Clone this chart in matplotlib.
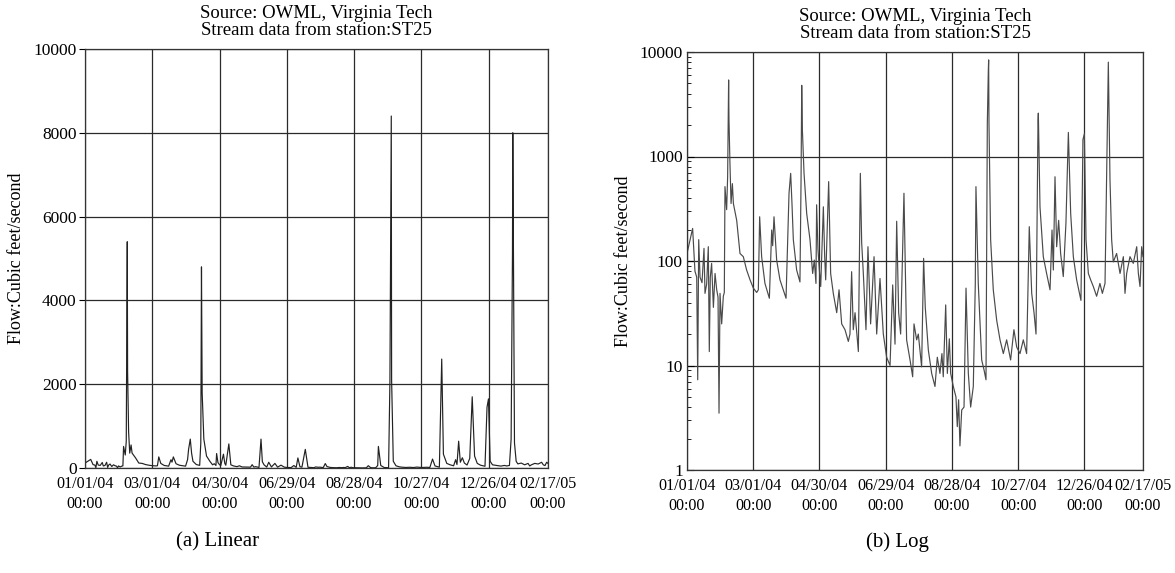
import matplotlib
matplotlib.use("Agg")
import matplotlib.pyplot as plt
import matplotlib.dates as mdates
from matplotlib.ticker import LogLocator, FixedLocator, NullFormatter
import datetime as dt

plt.rcParams['font.family'] = ['Liberation Serif', 'DejaVu Serif']

# ---- data: days since 01/01/04 00:00 and flow (cubic feet / second) ----
day = [0.0, 5.1, 7.2, 8.8, 9.7, 10.6, 11.8, 13.6, 15.4, 16.3, 17.8, 19.3, 20.2, 21.1,
       22.3, 23.9, 25.4, 26.9, 28.1, 29.0, 29.9, 31.4, 32.9, 33.8, 34.4, 35.9, 36.8,
       37.7, 38.0, 38.9, 39.9, 41.1, 42.0, 45.0, 48.0, 51.0, 54.0, 57.1, 60.1, 63.1,
       64.6, 65.8, 67.6, 70.6, 74.6, 76.7, 77.6, 78.8, 81.2, 84.2, 87.2, 89.7, 91.5,
       92.4, 93.9, 95.1, 96.3, 99.3, 102.3, 103.3, 103.9, 104.2, 104.5, 106.0, 108.4,
       111.4, 113.8, 115.3, 116.8, 117.4, 118.6, 119.9, 121.1, 123.5, 124.7, 125.6,
       128.3, 130.1, 132.5, 135.6, 137.7, 140.1, 143.1, 146.1, 147.6, 149.1, 150.6,
       152.2, 155.2, 157.0, 158.2, 159.7, 162.1, 163.9, 166.3, 169.4, 171.8, 174.8,
       177.8, 180.8, 183.9, 186.3, 188.4, 189.9, 191.7, 193.5, 196.5, 198.9, 202.0,
       204.4, 205.6, 208.0, 209.5, 212.5, 214.3, 215.8, 218.6, 221.6, 224.6, 226.7,
       229.1, 230.9, 232.1, 234.3, 235.8, 237.6, 238.8, 241.2, 243.6, 244.8, 246.0,
       247.2, 248.8, 250.9, 252.7, 254.8, 256.9, 259.3, 261.1, 261.7, 263.8, 266.9,
       269.0, 270.8, 272.0, 272.9, 273.2, 273.5, 275.0, 277.4, 280.5, 283.5, 286.5,
       289.5, 293.1, 296.1, 298.6, 301.6, 304.6, 307.6, 310.0, 312.2, 314.3, 316.1,
       317.9, 318.2, 319.7, 322.7, 325.7, 328.8, 330.6, 331.8, 333.3, 334.8, 336.6,
       338.4, 340.8, 343.2, 345.4, 347.5, 349.9, 352.9, 356.8, 358.6, 359.9, 361.4,
       363.5, 365.6, 368.0, 371.0, 374.0, 376.2, 378.6, 380.1, 381.3, 381.6, 383.1,
       384.6, 386.1, 389.1, 392.2, 395.2, 396.7, 398.2, 401.2, 404.2, 407.3, 408.8,
       410.3, 411.8, 413.0]
flow = [118, 205, 80, 70, 7.3, 160, 70, 62, 132, 49, 60, 137, 13.6, 70,
        95, 36, 76, 53, 45, 3.5, 49, 25, 46, 50, 515, 310, 640,
        5400, 2300, 860, 355, 550, 355, 245, 118, 110, 82, 66, 55, 50,
        53, 265, 110, 61, 44, 198, 140, 265, 102, 66, 53, 44, 200,
        445, 690, 350, 160, 82, 63, 600, 4800, 3100, 1800, 690, 285,
        160, 76, 102, 61, 345, 130, 82, 57, 330, 110, 66,
        575, 76, 49, 32, 53, 25, 22, 17, 20, 79, 22,
        32, 13.6, 690, 150, 76, 22, 137, 25, 110, 20, 68,
        20, 12, 10, 59, 16, 240, 32, 20, 445, 17.6, 11.3,
        7.8, 25, 17.6, 20, 9.7, 106, 36, 14, 8.4, 6.3, 12,
        8.4, 13, 7.8, 38, 8.4, 18, 8.4, 6.3, 5.0, 2.6, 4.7,
        1.7, 3.75, 4.0, 55, 8.4, 4.0, 6.3, 60, 515, 61, 11.3,
        9.1, 7.3, 2080, 6600, 8400, 2100, 160, 53, 27, 17.6, 13,
        17.6, 11.3, 22, 15, 13, 17.6, 13, 213, 49, 32, 20,
        2175, 2600, 330, 110, 76, 53, 198, 82, 640, 137, 245,
        118, 71, 230, 1700, 285, 110, 66, 42, 1450, 1650, 160,
        76, 66, 57, 46, 61, 49, 61, 690, 5100, 8000, 600,
        160, 98, 118, 76, 110, 49, 76, 110, 95, 137, 76,
        57, 137, 110]

tick_days = [0, 60, 120, 180, 240, 300, 360, 413]
tick_labels = ["01/01/04\n00:00", "03/01/04\n00:00", "04/30/04\n00:00", "06/29/04\n00:00",
               "08/28/04\n00:00", "10/27/04\n00:00", "12/26/04\n00:00", "02/17/05\n00:00"]
lin_ticks = [0, 2000, 4000, 6000, 8000, 10000]
log_ticks = [1, 10, 100, 1000, 10000]

title = "Source: OWML, Virginia Tech\nStream data from station:ST25"
ylabel = "Flow:Cubic feet/second"

start = dt.datetime(2004, 1, 1)
t = [start + dt.timedelta(days=d) for d in day]
tick_pos = [start + dt.timedelta(days=d) for d in tick_days]
t_end = start + dt.timedelta(days=413)

fig = plt.figure(figsize=(11.75, 5.73), dpi=100)
ax1 = fig.add_axes([85/1175, 1-468/573, 463/1175, 419/573])
ax2 = fig.add_axes([687/1175, 1-470/573, 456/1175, 418/573])

FS = 12.5
XFS = 11.6
grid_c = '#2a2a2a'

for ax, lc in ((ax1, '#222222'), (ax2, '#4a4a4a')):
    ax.plot(t, flow, color=lc, lw=0.85)
    ax.set_xlim(start, t_end)
    ax.xaxis.set_major_locator(FixedLocator(mdates.date2num(tick_pos)))
    ax.set_xticklabels(tick_labels, fontsize=XFS, linespacing=1.3)
    ax.tick_params(axis='x', length=0, pad=6)
    ax.grid(True, which='major', color=grid_c, lw=0.9)
    for s in ax.spines.values():
        s.set_color('#333333')
        s.set_linewidth(0.9)
    ax.set_title(title, fontsize=13.5, linespacing=1.0, pad=10)
    ax.set_ylabel(ylabel, fontsize=13)

# linear panel
ax1.set_ylim(0, 10000)
ax1.set_yticks(lin_ticks)
ax1.set_yticklabels([str(v) for v in lin_ticks], fontsize=FS)
ax1.tick_params(axis='y', direction='out', length=4, pad=2)
ax1.yaxis.set_label_coords(-0.13, 0.5)

# log panel
ax2.set_yscale('log')
ax2.set_ylim(1, 10000)
ax2.set_yticks(log_ticks)
ax2.set_yticklabels([str(v) for v in log_ticks], fontsize=FS)
ax2.yaxis.set_minor_locator(LogLocator(base=10, subs=range(2, 10)))
ax2.yaxis.set_minor_formatter(NullFormatter())
ax2.tick_params(axis='y', which='major', direction='in', length=5, pad=3)
ax2.tick_params(axis='y', which='minor', direction='in', length=3)
ax2.yaxis.set_label_coords(-0.12, 0.5)

fig.text(218/1175, 1-542/573, "(a) Linear", fontsize=15, ha='center', va='center')
fig.text(897/1175, 1-542/573, "(b) Log", fontsize=15, ha='center', va='center')

fig.savefig("out.png", dpi=100, facecolor='white')
